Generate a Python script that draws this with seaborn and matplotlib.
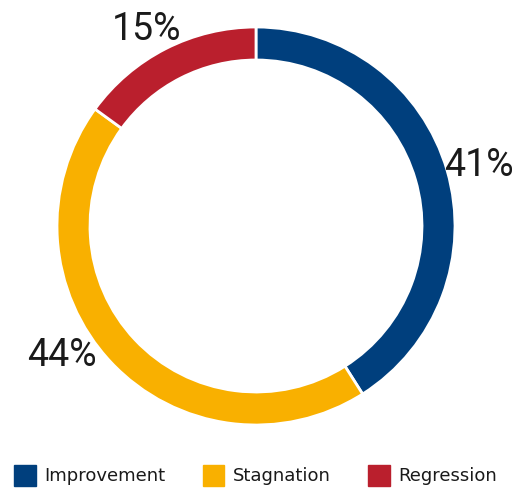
import matplotlib
matplotlib.use("Agg")
import matplotlib.pyplot as plt
import seaborn as sns
from matplotlib.patches import Patch

sns.set_theme(style="white")
plt.rcParams['font.family'] = ['DejaVu Sans']

categories = ["Improvement", "Stagnation", "Regression"]
shares = [41, 44, 15]
colors = ["#003F7D", "#F9B000", "#BA1F2D"]
label_text = [f"{v}%" for v in shares]

W, H = 514, 491
fig = plt.figure(figsize=(W / 100, H / 100), dpi=100)
ax = fig.add_axes([0, 0, 1, 1])

cx, cy, r, ring = 256, H - 226, 199, 33
ax.pie(
    shares, colors=colors, startangle=90, counterclock=False,
    center=(cx, cy), radius=r, frame=True,
    wedgeprops=dict(width=ring, edgecolor="white", linewidth=2),
)
ax.set_xlim(0, W)
ax.set_ylim(0, H)
ax.set_aspect("equal")
ax.axis("off")

# percentage labels placed around the ring
label_pos = [(479, H - 165), (62, H - 355), (147, H - 29)]
for txt, (x, y) in zip(label_text, label_pos):
    ax.text(x, y, txt, ha="center", va="center", fontsize=27,
            color="#1a1a1a", family=["Roboto", "DejaVu Sans"])

handles = [Patch(facecolor=c, edgecolor=c) for c in colors]
leg = fig.legend(handles, categories, loc="lower center", ncol=3,
                 bbox_to_anchor=(0.497, -0.022), frameon=False, fontsize=13,
                 handlelength=1.2, handleheight=1.4, handletextpad=0.45,
                 columnspacing=2.1)
for t in leg.get_texts():
    t.set_color("#1a1a1a")

fig.savefig("out.png", dpi=100)
